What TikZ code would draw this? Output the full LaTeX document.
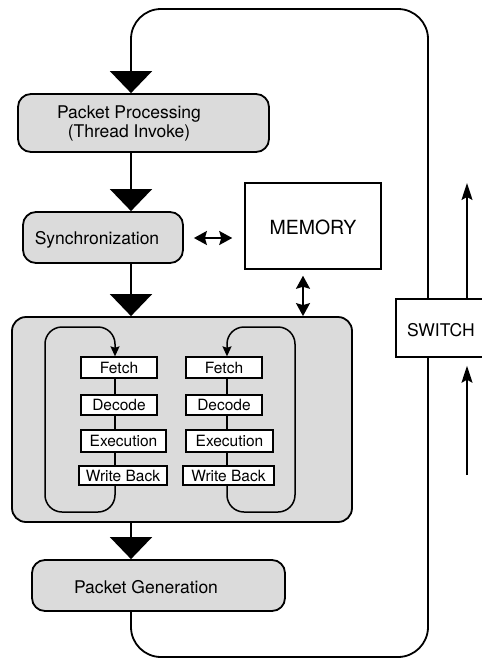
\documentclass[tikz,border=0pt]{standalone}
\usepackage{fontspec}
\setmainfont{TeX Gyre Heros}
\usetikzlibrary{arrows.meta}

\tikzset{
  shaded/.style={draw, line width=1.8pt, fill=black!14, rounded corners=13pt},
  plainbox/.style={draw, line width=1.5pt, fill=white},
  stagebox/.style={draw, line width=1.3pt, fill=white, inner sep=0pt,
    font=\fontsize{15.5}{17}\selectfont},
  label/.style={inner sep=0pt, font=\fontsize{17.5}{20}\selectfont, align=center},
  flow/.style={line width=1.8pt, -{Triangle[width=42pt,length=22pt]}},
  wire/.style={line width=1.8pt},
  dbl/.style={line width=1.8pt, {Stealth[width=14pt,length=13pt,inset=2pt]}-{Stealth[width=14pt,length=13pt,inset=2pt]}},
  loopline/.style={line width=1.5pt, rounded corners=17pt, -{Stealth[width=9pt,length=10pt,inset=1.5pt]}},
  swarrow/.style={line width=1.5pt, -{Stealth[width=11pt,length=17pt,inset=3pt]}},
}

\begin{document}
\begin{tikzpicture}[x=1pt,y=-1pt]
\useasboundingbox (0,0) rectangle (482,659);

% main column and side lines
\coordinate (col) at (131,0);
\coordinate (ring) at (428,0);

% boxes of the packet flow
\node[shaded, minimum width=251pt, minimum height=58pt] (pp) at (143.5,123) {};
\node[label] (pptext) at (129,123) {Packet Processing\\[-1pt](Thread Invoke)};

\node[shaded, minimum width=160pt, minimum height=51pt] (sync) at (103,237.5) {};
\node[label] (synctext) at (97,240) {Synchronization};

\node[plainbox, minimum width=136pt, minimum height=86pt] (mem) at (313,226) {};
\node[label, font=\fontsize{19.5}{22}\selectfont] (memtext) at (313,227) {MEMORY};

\node[shaded, rounded corners=14pt, minimum width=340pt, minimum height=205pt] (core) at (182,419.5) {};

\node[shaded, minimum width=253pt, minimum height=51pt] (pg) at (158.5,585.5) {};
\node[label] (pgtext) at (146,587) {Packet Generation};

% switch, running past the right edge
\node[plainbox, minimum width=110pt, minimum height=58pt] (sw) at (451,328) {};
\node[label] (swtext) at (441,330) {SWITCH};

% pipeline columns inside the core
\coordinate (lc) at (115,0);
\coordinate (rc) at (227,0);

\node[stagebox, minimum width=76pt, minimum height=21pt] (lf) at (119,367.5) {Fetch};
\node[stagebox, minimum width=76pt, minimum height=20pt] (ld) at (119,405) {Decode};
\node[stagebox, minimum width=85pt, minimum height=22pt] (le) at (123.5,441) {Execution};
\node[stagebox, minimum width=88pt, minimum height=19pt] (lw) at (123,475.5) {Write Back};

\node[stagebox, minimum width=76pt, minimum height=21pt] (rf) at (224,367.5) {Fetch};
\node[stagebox, minimum width=76pt, minimum height=20pt] (rd) at (224,405) {Decode};
\node[stagebox, minimum width=87pt, minimum height=22pt] (re) at (229.5,441) {Execution};
\node[stagebox, minimum width=91pt, minimum height=19pt] (rw) at (228.5,475.5) {Write Back};

% stage links
\foreach \a/\b in {lf/ld, ld/le, le/lw}
  \draw[line width=1.3pt] (\a.south -| lc) -- (\b.north -| lc);
\foreach \a/\b in {rf/rd, rd/re, re/rw}
  \draw[line width=1.3pt] (\a.south -| rc) -- (\b.north -| rc);

% thread loops
\draw[loopline] (lw.south -| lc) -- (115,512) -- (45,512) -- (45,327) -- (115,327) -- (lf.north -| lc);
\draw[loopline] (rw.south -| rc) -- (227,512) -- (295,512) -- (295,327) -- (227,327) -- (rf.north -| rc);

% packet flow
\draw[flow] (pp.south -| col) -- (sync.north -| col);
\draw[flow] (sync.south -| col) -- (core.north -| col);
\draw[flow] (core.south -| col) -- (pg.north -| col);

% memory accesses
\draw[dbl, shorten <=10pt, shorten >=12pt] (sync.east |- 0,238) -- (mem.west |- 0,238);
\draw[dbl, shorten <=6pt] (mem.south -| 303,0) -- (core.north -| 303,0);

% return ring through the switch
\draw[wire, rounded corners=30pt] (pg.south -| col) -- (131,657) -- (428,657) -- (sw.south -| ring);
\draw[wire, rounded corners=30pt, -{Triangle[width=42pt,length=22pt]}]
  (sw.north -| ring) -- (428,9) -- (131,9) -- (pp.north -| col);

% switch ports
\coordinate (outtip) at (467,183);
\coordinate (intail) at (467,475);
\draw[swarrow] (sw.north -| outtip) -- (outtip);
\draw[swarrow, shorten >=8pt] (intail) -- (sw.south -| intail);
\end{tikzpicture}
\end{document}
